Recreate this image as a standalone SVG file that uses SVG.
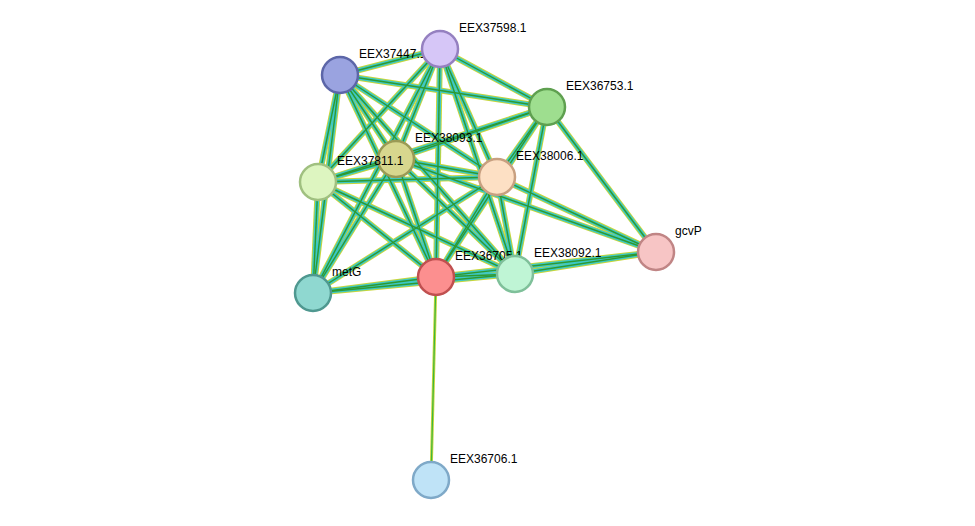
<svg xmlns="http://www.w3.org/2000/svg" width="975" height="526" viewBox="0 0 975 526">
<style>
.b1{stroke:#c8d63a;stroke-width:6;fill:none}
.b2{stroke:#3cc8c8;stroke-width:4;fill:none}
.b3{stroke:#2f9a2f;stroke-width:1.4;fill:none}
.n{stroke-width:2.5}
text{font-family:"Liberation Sans",Arial,sans-serif;font-size:12px;fill:#000}
</style>
<defs>
<g id="E">
<path d="M340,75L440,49"/><path d="M340,75L547,107"/><path d="M340,75L396,159"/><path d="M340,75L318,182"/><path d="M340,75L497,177"/><path d="M340,75L436,277"/><path d="M340,75L515,274"/><path d="M340,75L313,293"/>
<path d="M440,49L547,107"/><path d="M440,49L396,159"/><path d="M440,49L318,182"/><path d="M440,49L497,177"/><path d="M440,49L436,277"/><path d="M440,49L515,274"/><path d="M440,49L313,293"/>
<path d="M547,107L396,159"/><path d="M547,107L318,182"/><path d="M547,107L497,177"/><path d="M547,107L436,277"/><path d="M547,107L515,274"/><path d="M547,107L656,252"/>
<path d="M396,159L318,182"/><path d="M396,159L497,177"/><path d="M396,159L436,277"/><path d="M396,159L515,274"/><path d="M396,159L313,293"/><path d="M396,159L656,252"/>
<path d="M318,182L497,177"/><path d="M318,182L436,277"/><path d="M318,182L515,274"/><path d="M318,182L313,293"/>
<path d="M497,177L436,277"/><path d="M497,177L515,274"/><path d="M497,177L656,252"/><path d="M497,177L313,293"/>
<path d="M436,277L515,274"/><path d="M436,277L313,293"/><path d="M436,277L656,252"/>
<path d="M515,274L656,252"/><path d="M515,274L313,293"/>
</g>
</defs>
<g id="connectors">
<use href="#E" class="b1"/>
<use href="#E" class="b2"/>
<use href="#E" class="b3"/>
<path d="M436,277L431,480" stroke="#c8d63a" stroke-width="3" fill="none"/>
<path d="M436,277L431,480" stroke="#3cb83c" stroke-width="1.2" fill="none"/>
</g>
<g id="EEX36706.1"><circle class="n" cx="431" cy="480" r="18" fill="#bfe3f7" stroke="#7fa9c8"/><text x="450" y="463">EEX36706.1</text></g>
<g id="gcvP"><circle class="n" cx="656" cy="252" r="18" fill="#f7c5c5" stroke="#c08585"/><text x="675" y="235">gcvP</text></g>
<g id="EEX37447.1"><circle class="n" cx="340" cy="75" r="18" fill="#9aa3e0" stroke="#5c66a8"/><text x="359" y="58">EEX37447.1</text></g>
<g id="EEX37598.1"><circle class="n" cx="440" cy="49" r="18" fill="#d6c6f7" stroke="#9580c0"/><text x="459" y="32">EEX37598.1</text></g>
<g id="EEX36753.1"><circle class="n" cx="547" cy="107" r="18" fill="#9ede8f" stroke="#5fa050"/><text x="566" y="90">EEX36753.1</text></g>
<g id="EEX38093.1"><circle class="n" cx="396" cy="159" r="18" fill="#d7d78e" stroke="#9a9a55"/><text x="415" y="142">EEX38093.1</text></g>
<g id="EEX37811.1"><circle class="n" cx="318" cy="182" r="18" fill="#ddf5c0" stroke="#a0c080"/><text x="337" y="165">EEX37811.1</text></g>
<g id="EEX38006.1"><circle class="n" cx="497" cy="177" r="18" fill="#fde0c4" stroke="#c8a080"/><text x="516" y="160">EEX38006.1</text></g>
<g id="metG"><circle class="n" cx="313" cy="293" r="18" fill="#8fd8d0" stroke="#4f9890"/><text x="332" y="276">metG</text></g>
<g id="EEX36705.1"><circle class="n" cx="436" cy="277" r="18" fill="#fc8f8f" stroke="#c05050"/><text x="455" y="260">EEX36705.1</text></g>
<g id="EEX38092.1"><circle class="n" cx="515" cy="274" r="18" fill="#bff5d5" stroke="#7fc09a"/><text x="534" y="257">EEX38092.1</text></g>
</svg>
